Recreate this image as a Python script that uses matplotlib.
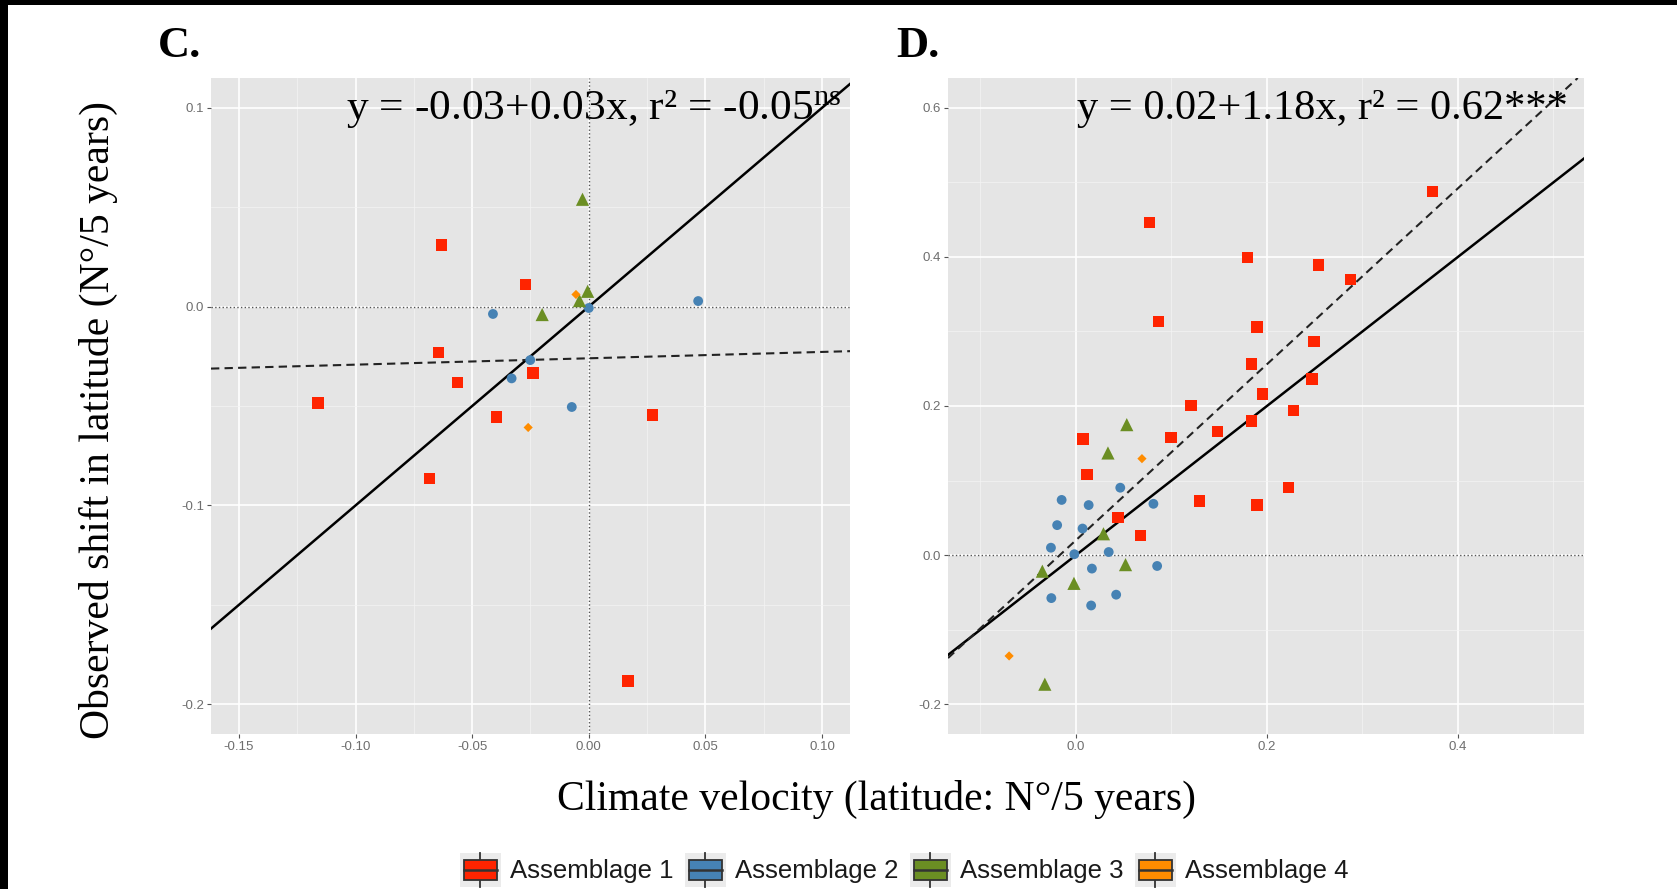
import matplotlib
matplotlib.use("Agg")
import matplotlib.pyplot as plt
from matplotlib.patches import Rectangle, Patch
from matplotlib.lines import Line2D
from matplotlib.legend_handler import HandlerBase
from matplotlib.ticker import MultipleLocator, AutoMinorLocator

plt.rcParams['mathtext.fontset'] = 'custom'
plt.rcParams['mathtext.rm'] = 'Liberation Serif'
plt.rcParams['mathtext.it'] = 'Liberation Serif:italic'

# ---------------- data ----------------
assemblages = ["Assemblage 1", "Assemblage 2", "Assemblage 3", "Assemblage 4"]
colors = ["#FF2400", "#4682B4", "#6B8E23", "#FF8C00"]

# Panel C
c_a1_x = [-0.0631, -0.0271, -0.0644, -0.0564, -0.0240, -0.1162, -0.0396, 0.0273, -0.0684, 0.0169]
c_a1_y = [0.0311, 0.0112, -0.0232, -0.0383, -0.0333, -0.0486, -0.0556, -0.0545, -0.0864, -0.1884]
c_a2_x = [-0.0411, 0.0000, 0.0469, -0.0251, -0.0331, -0.0073]
c_a2_y = [-0.0037, -0.0007, 0.0028, -0.0269, -0.0361, -0.0505]
c_a3_x = [-0.0027, -0.0005, -0.0040, -0.0200]
c_a3_y = [0.0540, 0.0077, 0.0030, -0.0040]
c_a4_x = [-0.0055, -0.0260]
c_a4_y = [0.0061, -0.0608]
c_fit = (-0.026, 0.032)
c_label = "y = -0.03+0.03x, r² = -0.05$^{\\mathrm{ns}}$"

# Panel D
d_a1_x = [0.3734, 0.0768, 0.1794, 0.2541, 0.2876, 0.0863, 0.1897, 0.2494, 0.1837, 0.2472, 0.1953,
          0.1206, 0.2279, 0.1837, 0.1481, 0.0996, 0.0073, 0.0116, 0.2223, 0.1292, 0.1897, 0.0442, 0.0678]
d_a1_y = [0.4875, 0.4460, 0.3994, 0.3890, 0.3700, 0.3137, 0.3060, 0.2863, 0.2566, 0.2362, 0.2163,
          0.2006, 0.1942, 0.1796, 0.1656, 0.1574, 0.1557, 0.1079, 0.0904, 0.0723, 0.0671, 0.0507, 0.0262]
d_a2_x = [0.0464, -0.0150, 0.0133, 0.0811, -0.0197, 0.0069, -0.0262, -0.0017, 0.0343, 0.0167, 0.0850,
          -0.0258, 0.0421, 0.0159]
d_a2_y = [0.0904, 0.0740, 0.0671, 0.0688, 0.0402, 0.0356, 0.0099, 0.0012, 0.0041, -0.0181, -0.0146,
          -0.0577, -0.0531, -0.0676]
d_a3_x = [0.0532, 0.0335, 0.0288, 0.0519, -0.0352, -0.0021, -0.0326]
d_a3_y = [0.1750, 0.1370, 0.0286, -0.0128, -0.0216, -0.0379, -0.1732]
d_a4_x = [0.0691, -0.0700]
d_a4_y = [0.1294, -0.1353]
d_fit = (0.02, 1.18)
d_label = "y = 0.02+1.18x, r² = 0.62***"

markers = ["s", "o", "^", "D"]
sizes = [68, 50, 90, 22]

# ---------------- figure ----------------
fig = plt.figure(figsize=(16.77, 8.89), dpi=100)
fig.patch.set_facecolor("white")
# black border strips (top and left)
fig.add_artist(Rectangle((0, 1 - 5 / 889), 1, 5 / 889, transform=fig.transFigure, fc="black", ec="none"))
fig.add_artist(Rectangle((0, 0), 8 / 1677, 1, transform=fig.transFigure, fc="black", ec="none"))

axC = fig.add_axes([211 / 1677, 155 / 889, 639 / 1677, 656 / 889])
axD = fig.add_axes([948 / 1677, 155 / 889, 636 / 1677, 656 / 889])


def style(ax, xlim, ylim, xmaj, ymaj, xfmt, yfmt):
    ax.set_facecolor("#E5E5E5")
    for s in ax.spines.values():
        s.set_visible(False)
    ax.set_xlim(*xlim)
    ax.set_ylim(*ylim)
    ax.xaxis.set_major_locator(MultipleLocator(xmaj))
    ax.yaxis.set_major_locator(MultipleLocator(ymaj))
    ax.xaxis.set_minor_locator(AutoMinorLocator(2))
    ax.yaxis.set_minor_locator(AutoMinorLocator(2))
    ax.xaxis.set_major_formatter(xfmt)
    ax.yaxis.set_major_formatter(yfmt)
    ax.grid(which="major", color="white", lw=1.2, zorder=0)
    ax.grid(which="minor", color="#F4F4F4", lw=0.5, zorder=0)
    ax.set_axisbelow(True)
    ax.tick_params(which="major", length=3, width=0.8, color="#555555", labelsize=9.5,
                   labelcolor="#6E6E6E", pad=2)
    ax.tick_params(which="minor", length=0)


style(axC, (-0.162, 0.112), (-0.215, 0.115), 0.05, 0.1,
      lambda v, p: f"{v:.2f}", lambda v, p: f"{v:.1f}")
style(axD, (-0.134, 0.532), (-0.24, 0.64), 0.2, 0.2,
      lambda v, p: f"{v:.1f}", lambda v, p: f"{v:.1f}")
for ax in (axC, axD):
    for lab in ax.get_xticklabels() + ax.get_yticklabels():
        lab.set_fontfamily("Liberation Sans")

# reference lines
axC.axhline(0, color="#555555", lw=1.0, ls=":", zorder=1)
axC.axvline(0, color="#555555", lw=1.0, ls=":", zorder=1)
axD.axhline(0, color="#555555", lw=1.0, ls=":", zorder=1)

for ax, fit in ((axC, c_fit), (axD, d_fit)):
    ax.axline((0, 0), slope=1, color="black", lw=1.8, zorder=2)
    ax.axline((0, fit[0]), slope=fit[1], color="#222222", lw=1.5, ls=(0, (4, 2.5)), zorder=2)

c_sets = [(c_a1_x, c_a1_y), (c_a2_x, c_a2_y), (c_a3_x, c_a3_y), (c_a4_x, c_a4_y)]
d_sets = [(d_a1_x, d_a1_y), (d_a2_x, d_a2_y), (d_a3_x, d_a3_y), (d_a4_x, d_a4_y)]
for ax, sets in ((axC, c_sets), (axD, d_sets)):
    for (xs, ys), col, mk, sz in zip(sets, colors, markers, sizes):
        ax.scatter(xs, ys, marker=mk, s=sz, color=col, edgecolors="none", zorder=3)

axC.text(0.987, 0.953, c_label, transform=axC.transAxes, ha="right", va="center",
         fontsize=31.3, family="Liberation Serif", color="black", zorder=5)
axD.text(0.975, 0.953, d_label, transform=axD.transAxes, ha="right", va="center",
         fontsize=30.5, family="Liberation Serif", color="black", zorder=5)

# panel letters
fig.text(158 / 1677, 1 - 46 / 889, "C.", fontsize=32, fontweight="bold", family="Liberation Serif",
         ha="left", va="center")
fig.text(896 / 1677, 1 - 46 / 889, "D.", fontsize=32, fontweight="bold", family="Liberation Serif",
         ha="left", va="center")

# axis titles
fig.text(98 / 1677, 1 - 420 / 889, "Observed shift in latitude (N°/5 years)", rotation=90,
         fontsize=30, family="Liberation Serif", ha="center", va="center")
fig.text(877 / 1677, 1 - 799 / 889, "Climate velocity (latitude: N°/5 years)",
         fontsize=30, family="Liberation Serif", ha="center", va="center")


# ---------------- legend ----------------
class BoxKey(HandlerBase):
    def create_artists(self, legend, orig_handle, xdescent, ydescent, width, height, fontsize, trans):
        fc = orig_handle.get_facecolor()
        x0, y0 = -xdescent, -ydescent
        arts = []
        arts.append(Rectangle((x0, y0), width, height, fc="#EBEBEB", ec="none", transform=trans))
        cx = x0 + width / 2
        arts.append(Line2D([cx, cx], [y0, y0 + 0.2 * height], color="#333333", lw=1.3, transform=trans))
        arts.append(Line2D([cx, cx], [y0 + 0.8 * height, y0 + height], color="#333333", lw=1.3,
                           transform=trans))
        arts.append(Rectangle((x0 + 0.1 * width, y0 + 0.2 * height), 0.8 * width, 0.6 * height,
                              fc=fc, ec="#333333", lw=1.3, transform=trans))
        arts.append(Line2D([x0 + 0.1 * width, x0 + 0.9 * width], [y0 + 0.5 * height] * 2,
                           color="#333333", lw=1.8, transform=trans))
        return arts


handles = [Patch(facecolor=c) for c in colors]
leg = fig.legend(handles, assemblages, loc="center", bbox_to_anchor=(904 / 1677, 1 - 870 / 889),
                 ncol=4, frameon=False, handler_map={Patch: BoxKey()},
                 prop={"family": "Liberation Sans", "size": 18.5},
                 handlelength=1.6, handleheight=1.7, handletextpad=0.35, columnspacing=0.45,
                 borderpad=0, borderaxespad=0)
for t in leg.get_texts():
    t.set_color("#1A1A1A")

fig.savefig("out.png", dpi=100)
